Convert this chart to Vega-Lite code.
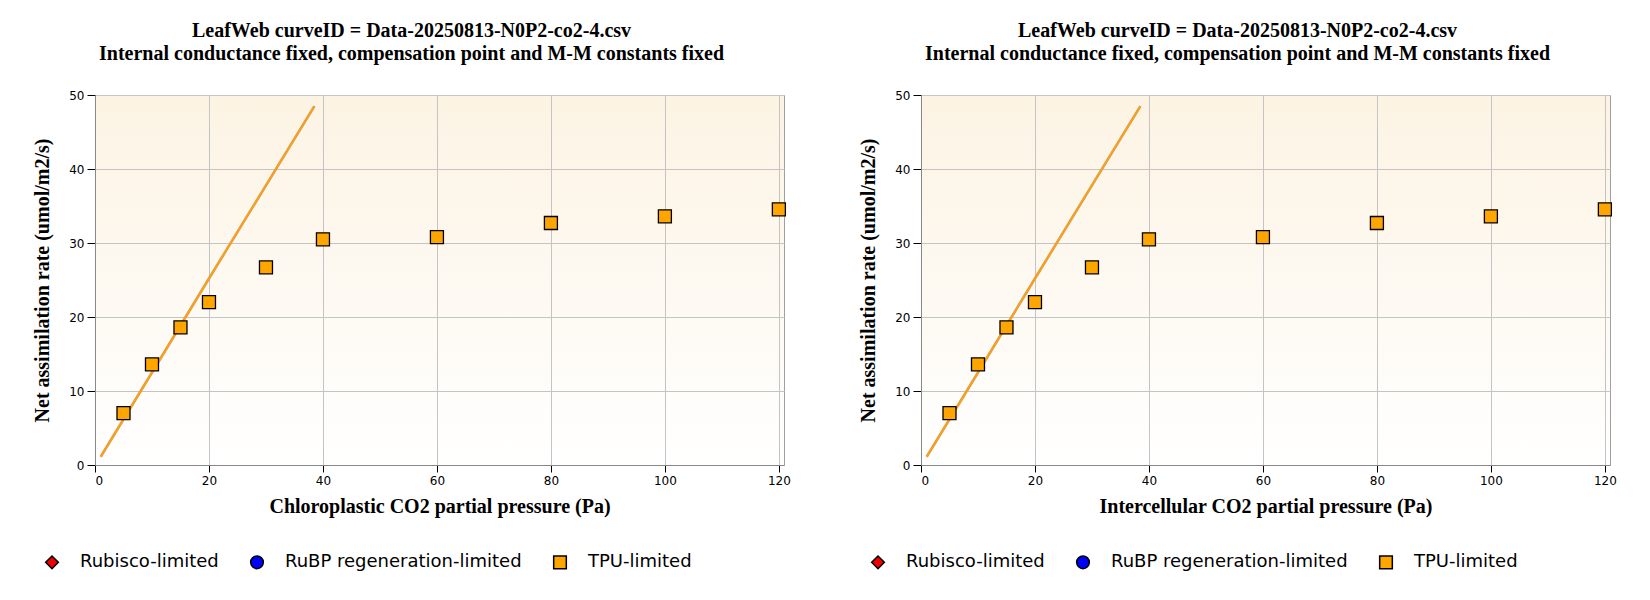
{
  "$schema": "https://vega.github.io/schema/vega-lite/v6.json",
  "background": "white",
  "padding": {"left": 32, "top": 20, "right": 0, "bottom": 0},
  "spacing": 67,
  "datasets": {
    "aci": [
      {"ci": 5, "an": 7.0, "limit": "TPU-limited"},
      {"ci": 10, "an": 13.6, "limit": "TPU-limited"},
      {"ci": 15, "an": 18.6, "limit": "TPU-limited"},
      {"ci": 20, "an": 22.0, "limit": "TPU-limited"},
      {"ci": 30, "an": 26.7, "limit": "TPU-limited"},
      {"ci": 40, "an": 30.5, "limit": "TPU-limited"},
      {"ci": 60, "an": 30.8, "limit": "TPU-limited"},
      {"ci": 80, "an": 32.7, "limit": "TPU-limited"},
      {"ci": 100, "an": 33.6, "limit": "TPU-limited"},
      {"ci": 120, "an": 34.55, "limit": "TPU-limited"}
    ],
    "fit": [
      {"ci": 1.0, "an": 1.12},
      {"ci": 10, "an": 12.5},
      {"ci": 20, "an": 25.2},
      {"ci": 38.5, "an": 48.5}
    ]
  },
  "resolve": {
    "scale": {"color": "independent", "shape": "independent"},
    "legend": {"color": "independent", "shape": "independent"}
  },
  "hconcat": [
    {
      "width": 689,
      "height": 370,
      "title": {"text": ["LeafWeb curveID = Data-20250813-N0P2-co2-4.csv", "Internal conductance fixed, compensation point and M-M constants fixed"]},
      "encoding": {
        "x": {"field": "ci", "type": "quantitative", "title": "Chloroplastic CO2 partial pressure (Pa)", "scale": {"domain": [0, 120.9], "nice": false}, "axis": {"values": [0, 20, 40, 60, 80, 100, 120]}},
        "y": {"field": "an", "type": "quantitative", "title": "Net assimilation rate (umol/m2/s)", "scale": {"domain": [0, 50], "nice": false}, "axis": {"values": [0, 10, 20, 30, 40, 50]}}
      },
      "layer": [
        {"data": {"name": "fit"}, "mark": {"type": "line", "color": "#c99a74", "strokeWidth": 2.6}},
        {"data": {"name": "fit"}, "mark": {"type": "line", "color": "#ffa20a", "strokeWidth": 1.7}},
        {
          "data": {"name": "aci"},
          "mark": {"type": "point", "filled": true, "size": 169, "stroke": "black", "strokeWidth": 1.3, "opacity": 1},
          "encoding": {
            "color": {"field": "limit", "type": "nominal", "scale": {"domain": ["Rubisco-limited", "RuBP regeneration-limited", "TPU-limited"], "range": ["#ee0000", "#0000ff", "#ffa500"]},
              "legend": {"orient": "none", "legendX": -52, "legendY": 458, "direction": "horizontal", "title": null,
                "labelExpr": "datum.label === 'RuBP regeneration-limited' ? datum.label + '\u00a0\u00a0' : datum.label",
                "encode": {"symbols": {"update": {
                  "stroke": {"signal": "datum.value === 'TPU-limited' ? 'black' : 'transparent'"},
                  "strokeWidth": {"value": 1.3},
                  "size": {"signal": "datum.value === 'Rubisco-limited' ? 100 : datum.value === 'TPU-limited' ? 190 : 160"}
                }}}}},
            "shape": {"field": "limit", "type": "nominal", "scale": {"domain": ["Rubisco-limited", "RuBP regeneration-limited", "TPU-limited"], "range": ["diamond", "circle", "square"]}}
          }
        }
      ]
    },
    {
      "width": 689,
      "height": 370,
      "title": {"text": ["LeafWeb curveID = Data-20250813-N0P2-co2-4.csv", "Internal conductance fixed, compensation point and M-M constants fixed"]},
      "encoding": {
        "x": {"field": "ci", "type": "quantitative", "title": "Intercellular CO2 partial pressure (Pa)", "scale": {"domain": [0, 120.9], "nice": false}, "axis": {"values": [0, 20, 40, 60, 80, 100, 120]}},
        "y": {"field": "an", "type": "quantitative", "title": "Net assimilation rate (umol/m2/s)", "scale": {"domain": [0, 50], "nice": false}, "axis": {"values": [0, 10, 20, 30, 40, 50]}}
      },
      "layer": [
        {"data": {"name": "fit"}, "mark": {"type": "line", "color": "#c99a74", "strokeWidth": 2.6}},
        {"data": {"name": "fit"}, "mark": {"type": "line", "color": "#ffa20a", "strokeWidth": 1.7}},
        {
          "data": {"name": "aci"},
          "mark": {"type": "point", "filled": true, "size": 169, "stroke": "black", "strokeWidth": 1.3, "opacity": 1},
          "encoding": {
            "color": {"field": "limit", "type": "nominal", "scale": {"domain": ["Rubisco-limited", "RuBP regeneration-limited", "TPU-limited"], "range": ["#ee0000", "#0000ff", "#ffa500"]},
              "legend": {"orient": "none", "legendX": -52, "legendY": 458, "direction": "horizontal", "title": null,
                "labelExpr": "datum.label === 'RuBP regeneration-limited' ? datum.label + '\u00a0\u00a0' : datum.label",
                "encode": {"symbols": {"update": {
                  "stroke": {"signal": "datum.value === 'TPU-limited' ? 'black' : 'transparent'"},
                  "strokeWidth": {"value": 1.3},
                  "size": {"signal": "datum.value === 'Rubisco-limited' ? 100 : datum.value === 'TPU-limited' ? 190 : 160"}
                }}}}},
            "shape": {"field": "limit", "type": "nominal", "scale": {"domain": ["Rubisco-limited", "RuBP regeneration-limited", "TPU-limited"], "range": ["diamond", "circle", "square"]}}
          }
        }
      ]
    }
  ],
  "config": {
    "view": {
      "stroke": "#a0a0a0",
      "strokeWidth": 1,
      "fill": {"gradient": "linear", "x1": 0, "y1": 0, "x2": 0, "y2": 1, "stops": [{"offset": 0, "color": "#fcf3e3"}, {"offset": 1, "color": "#ffffff"}]}
    },
    "title": {"font": "Liberation Serif", "fontSize": 20, "fontWeight": "bold", "color": "black", "anchor": "middle", "frame": "bounds", "baseline": "bottom", "lineHeight": 23.3, "offset": 24.5},
    "axis": {
      "grid": true,
      "gridColor": "#c4c4c4",
      "gridWidth": 1,
      "domainColor": "#888888",
      "tickColor": "black",
      "labelFont": "DejaVu Sans",
      "labelFontSize": 12,
      "labelColor": "black",
      "titleFont": "Liberation Serif",
      "titleFontSize": 20,
      "titleFontWeight": "bold",
      "titleColor": "black"
    },
    "axisX": {"tickSize": 7, "labelPadding": 3, "titlePadding": 10},
    "axisY": {"tickSize": 8, "labelPadding": 3, "titlePadding": 16},
    "legend": {"labelFont": "DejaVu Sans", "labelFontSize": 18, "labelColor": "black", "labelOffset": 19, "labelLimit": 400, "columnPadding": 28, "padding": 0, "symbolSize": 160}
  }
}
